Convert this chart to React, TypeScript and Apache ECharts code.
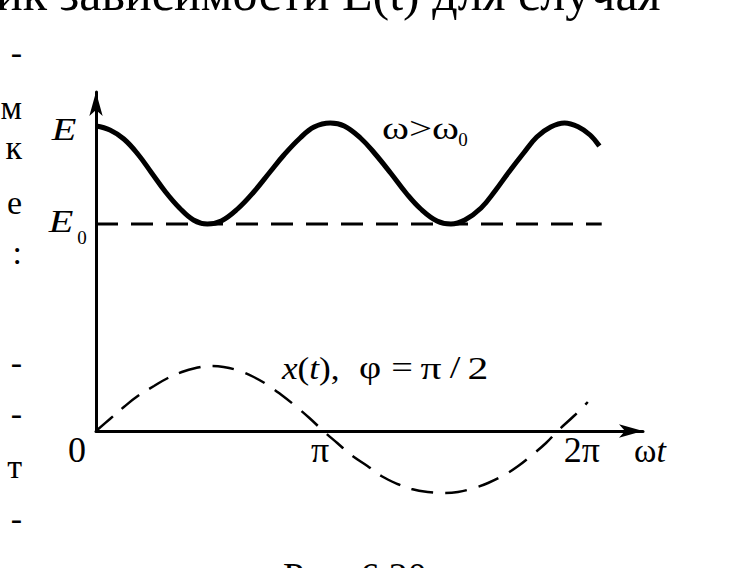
import React, { useEffect, useRef } from "react";
import * as echarts from "echarts";

// phase ωt in units of π, energy and displacement in arbitrary units
const phaseE = [0, 0.06, 0.12, 0.18, 0.24, 0.3, 0.36, 0.42, 0.48, 0.54, 0.61, 0.68, 0.75, 0.81, 0.88, 0.94, 1.01, 1.07, 1.14, 1.2, 1.27, 1.34, 1.4, 1.47, 1.53, 1.59, 1.66, 1.72, 1.78, 1.84, 1.9, 1.96, 2.02, 2.08, 2.13, 2.17];
const energy = [3.05, 3.01, 2.92, 2.77, 2.58, 2.39, 2.23, 2.11, 2.07, 2.1, 2.22, 2.39, 2.59, 2.76, 2.93, 3.04, 3.08, 3.05, 2.93, 2.78, 2.58, 2.37, 2.22, 2.1, 2.07, 2.11, 2.23, 2.4, 2.59, 2.77, 2.94, 3.04, 3.08, 3.04, 2.96, 2.85];
const phaseX = [0, 0.06, 0.12, 0.18, 0.25, 0.31, 0.37, 0.43, 0.49, 0.55, 0.62, 0.68, 0.74, 0.8, 0.86, 0.92, 0.98, 1.04, 1.1, 1.17, 1.23, 1.3, 1.36, 1.43, 1.5, 1.56, 1.63, 1.69, 1.76, 1.82, 1.88, 1.94, 1.99, 2.06, 2.12];
const displacement = [0, 0.12, 0.24, 0.35, 0.45, 0.53, 0.59, 0.63, 0.65, 0.64, 0.6, 0.54, 0.46, 0.36, 0.25, 0.13, 0, -0.12, -0.24, -0.35, -0.45, -0.53, -0.58, -0.61, -0.62, -0.61, -0.57, -0.52, -0.44, -0.35, -0.24, -0.12, 0, 0.15, 0.29];
const e0Phase = [0, 2.18];
const e0Level = [2.07, 2.07];
const tickLabels = ["0", "π", "2π"];

const SERIF = "'Liberation Serif', 'DejaVu Serif', serif";

function txt(text: string, x: number, y: number, size: number, align: string = "left", italic = false, sx = 1) {
  return {
    type: "text",
    x,
    y,
    scaleX: sx,
    silent: true,
    style: {
      text,
      fill: "#000",
      fontFamily: SERIF,
      fontSize: size,
      fontStyle: italic ? "italic" : "normal",
      align,
      verticalAlign: "middle",
    },
  };
}

export default function App() {
  const ref = useRef<HTMLDivElement>(null);
  useEffect(() => {
    if (!ref.current) return;
    const chart = echarts.init(ref.current, null, { renderer: "svg" });
    const labelStyle = { fontFamily: SERIF, fontSize: 36, color: "#000" };
    const option: any = {
      animation: false,
      backgroundColor: "#fff",
      grid: { left: 96, right: 93, top: 92, bottom: 137, containLabel: false },
      xAxis: {
        type: "value",
        min: 0,
        max: 2.358,
        interval: 1,
        axisLine: {
          show: true,
          onZero: false,
          symbol: ["none", "arrow"],
          symbolSize: [10, 24],
          lineStyle: { color: "#000", width: 3 },
        },
        axisTick: { show: false },
        splitLine: { show: false },
        axisLabel: {
          show: true,
          margin: 19,
          verticalAlign: "middle",
          showMaxLabel: false,
          formatter: (v: number) => {
            const i = Math.round(v);
            return tickLabels[i] !== undefined ? `{t${i}|${tickLabels[i]}}` : "";
          },
          rich: {
            t0: { ...labelStyle, padding: [0, 38, 0, 0] },
            t1: { ...labelStyle, padding: [0, 16, 0, 0] },
            t2: { ...labelStyle, padding: [0, 0, 0, 44] },
          },
        },
      },
      yAxis: {
        type: "value",
        min: 0,
        max: 3.39,
        axisLine: {
          show: true,
          onZero: false,
          symbol: ["none", "arrow"],
          symbolSize: [10, 24],
          lineStyle: { color: "#000", width: 3 },
        },
        axisTick: { show: false },
        splitLine: { show: false },
        axisLabel: { show: false },
      },
      series: [
        {
          name: "E0",
          type: "line",
          data: e0Phase.map((p, i) => [p, e0Level[i]]),
          showSymbol: false,
          lineStyle: { color: "#000", width: 3, type: [22, 13] },
          z: 2,
        },
        {
          name: "E",
          type: "line",
          smooth: 0.4,
          data: phaseE.map((p, i) => [p, energy[i]]),
          showSymbol: false,
          lineStyle: { color: "#000", width: 5 },
          z: 3,
        },
        {
          name: "x(t)",
          type: "line",
          smooth: 0.4,
          clip: false,
          data: phaseX.map((p, i) => [p, displacement[i]]),
          showSymbol: false,
          lineStyle: { color: "#000", width: 2.5, type: [22, 12] },
          z: 3,
        },
      ],
      graphic: [
        // axis and curve annotations
        txt("E", 64, 130, 31, "center", true, 1.3),
        txt("E", 61, 222, 31, "center", true, 1.3),
        txt("0", 82, 237, 19, "center"),
        txt("ω>ω", 382, 128, 32, "left", false, 1.28),
        txt("0", 463, 139, 19, "center"),
        {
          type: "text",
          x: 282,
          y: 368,
          scaleX: 1.1,
          silent: true,
          style: {
            text: "{i|x}{n|(}{i|t}{n|),}",
            verticalAlign: "middle",
            align: "left",
            rich: {
              i: { fontFamily: SERIF, fontSize: 32, fontStyle: "italic", fill: "#000" },
              n: { fontFamily: SERIF, fontSize: 32, fill: "#000" },
            },
          },
        },
        txt("φ", 370, 368, 32, "center", false, 1.2),
        txt("=", 402, 368, 32, "center", false, 1.2),
        txt("π", 431, 368, 32, "center", false, 1.3),
        txt("/", 455, 368, 32, "center", false, 1.2),
        txt("2", 478, 368, 32, "center", false, 1.3),
        {
          type: "text",
          x: 634,
          y: 450,
          silent: true,
          style: {
            text: "{n|ω}{i|t}",
            verticalAlign: "middle",
            align: "left",
            rich: {
              i: { fontFamily: SERIF, fontSize: 34, fontStyle: "italic", fill: "#000" },
              n: { fontFamily: SERIF, fontSize: 34, fill: "#000" },
            },
          },
        },
        // surrounding page text (cropped scan)
        txt("ик зависимости E(t) для случая", -4, -7, 50, "left"),
        txt("Рис. 6.20", 283, 576, 38, "left"),
        txt("-", 22, 52, 34, "right"),
        txt("м", 22, 107, 34, "right"),
        txt("к", 22, 147, 34, "right"),
        txt("е", 22, 202, 34, "right"),
        txt(":", 22, 252, 34, "right"),
        txt("-", 22, 362, 34, "right"),
        txt("-", 22, 413, 34, "right"),
        txt("т", 22, 466, 34, "right"),
        txt("-", 22, 518, 34, "right"),
        txt("т", 22, 580, 34, "right"),
      ],
    };
    chart.setOption(option);
    return () => chart.dispose();
  }, []);
  return (
    <div
      ref={ref}
      style={{ position: "fixed", left: 0, top: 0, width: 736, height: 568, background: "#fff" }}
    />
  );
}
